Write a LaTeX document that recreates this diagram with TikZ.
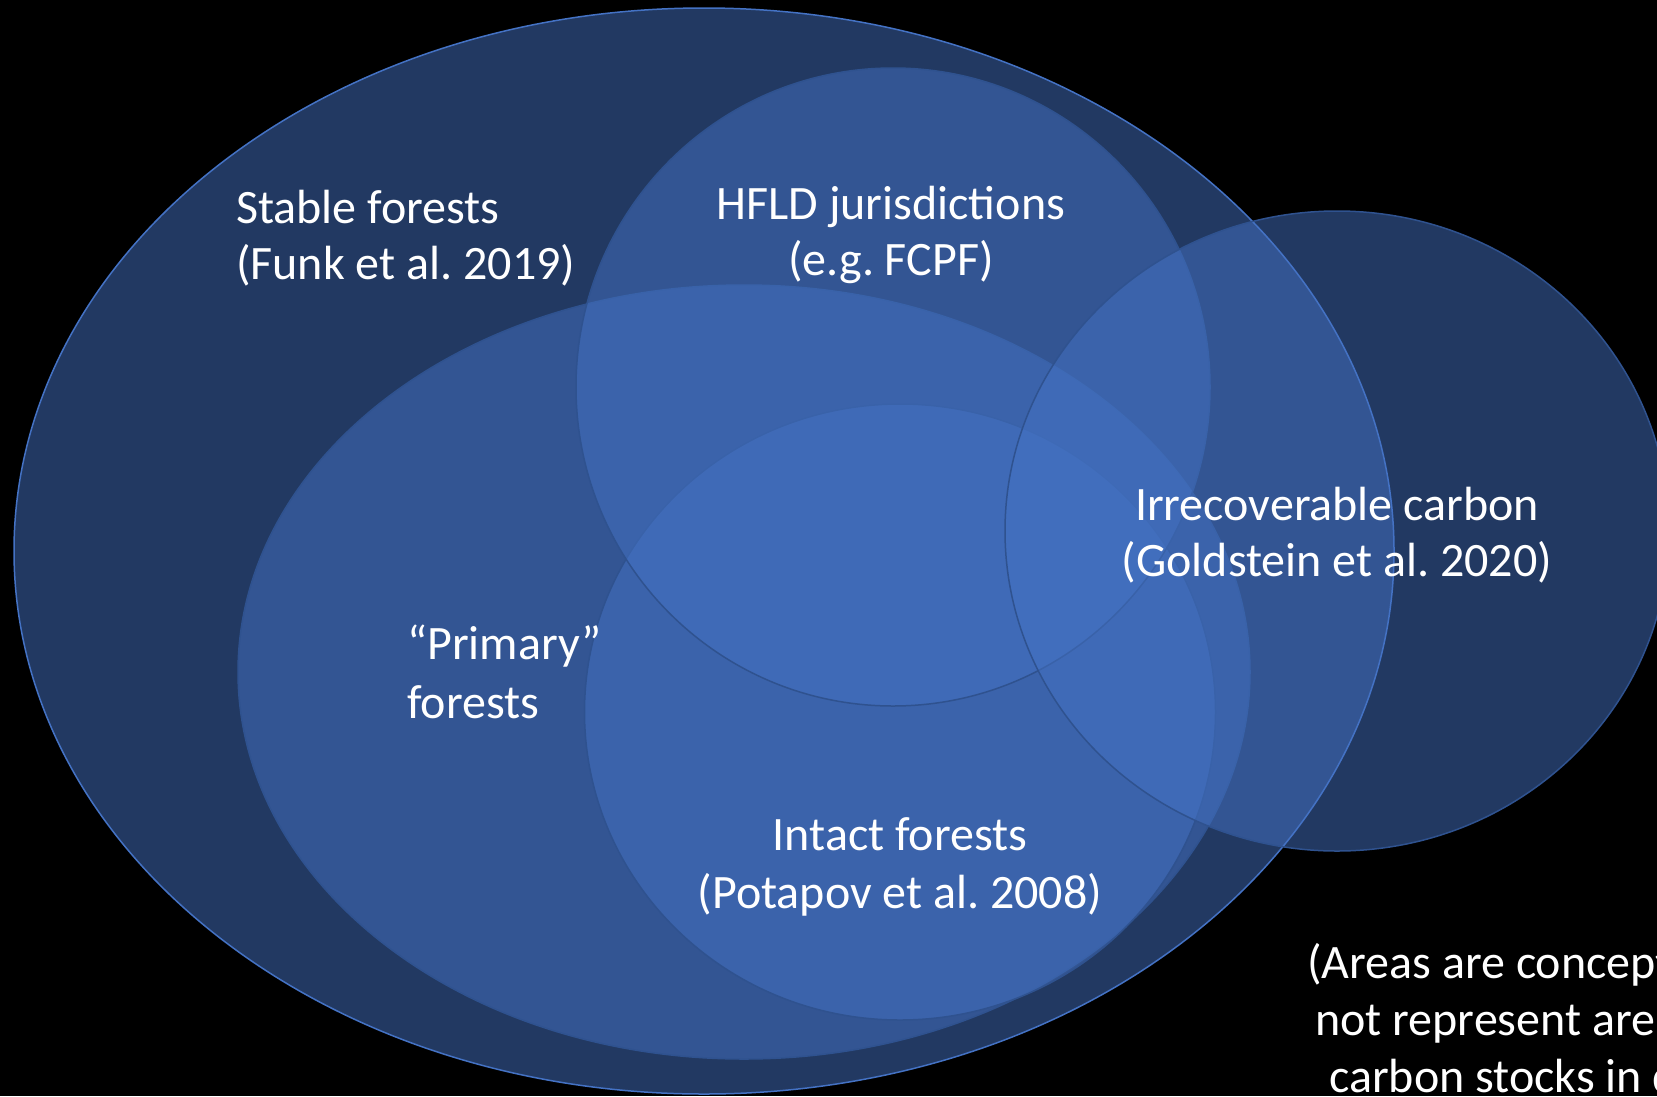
\documentclass[tikz,border=0pt]{standalone}
\usepackage{fontspec}
\setmainfont{Carlito}
\usetikzlibrary{shapes.geometric}
\definecolor{vblue}{HTML}{4472C4}
\definecolor{vline}{HTML}{2F528F}
\frenchspacing
\begin{document}
\begin{tikzpicture}[x=1pt,y=-1pt,
  venn/.style={ellipse, fill=vblue, fill opacity=0.5, draw=vline, line width=1.5pt, inner sep=0pt},
  lbl/.style={text=white, font=\fontsize{48}{56}\selectfont\frenchspacing, inner sep=0pt}]
\useasboundingbox (0,0) rectangle (1657,1096);
\fill[black] (0,0) rectangle (1657,1096);
\clip (0,0) rectangle (1657,1096);
% ellipses (drawing order matters for overlaps)
\node[venn, draw=vblue, minimum width=1380pt, minimum height=1086pt] (stable) at (704,551) {};
\node[venn, minimum width=1012pt, minimum height=774pt] (primary) at (744,672) {};
\node[venn, minimum width=631pt, minimum height=616pt] (intact) at (900,712) {};
\node[venn, minimum width=634pt, minimum height=638pt] (hfld) at (893,387) {};
\node[venn, minimum width=664pt, minimum height=640pt] (irrec) at (1337,531) {};
% labels
\node[lbl, anchor=base west] (tstableA) at (236,223) {Stable forests};
\node[lbl, anchor=base west] (tstableB) at (236,279) {(Funk et al. 2019)};
\node[lbl, anchor=base] (thfldA) at (891,219) {HFLD jurisdictions};
\node[lbl, anchor=base] (thfldB) at (891,275) {(e.g. FCPF)};
\node[lbl, anchor=base] (tirrA) at (1337,520) {Irrecoverable carbon};
\node[lbl, anchor=base] (tirrB) at (1337,576) {(Goldstein et al. 2020)};
\node[lbl, anchor=base west] (tprimA) at (407,659) {“Primary”};
\node[lbl, anchor=base west] (tprimB) at (407,718) {forests};
\node[lbl, anchor=base] (tintA) at (900,850) {Intact forests};
\node[lbl, anchor=base] (tintB) at (900,908) {(Potapov et al. 2008)};
\node[lbl, anchor=base west] (noteA) at (1307,978) {(Areas are conceptual};
\node[lbl, anchor=base west] (noteB) at (1315,1035) {not represent areas};
\node[lbl, anchor=base west] (noteC) at (1329,1092) {carbon stocks in detail};
\end{tikzpicture}
\end{document}
